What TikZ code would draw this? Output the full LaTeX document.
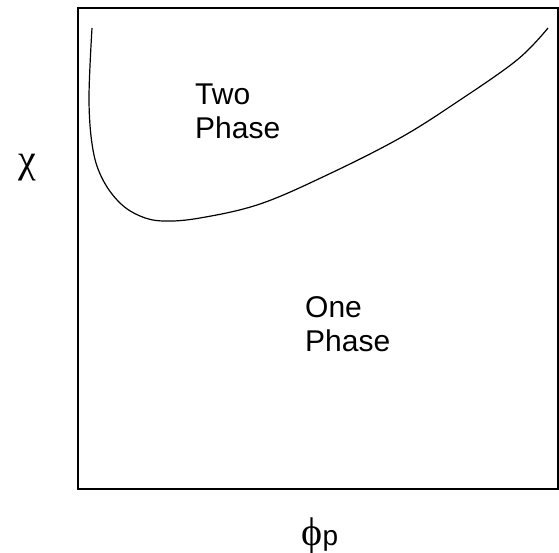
\documentclass[tikz,border=0pt]{standalone}
\usepackage{fontspec}
\setmainfont{Liberation Sans}
\newfontfamily\greekfont{Liberation Serif}
\begin{document}
\begin{tikzpicture}[x=1pt,y=-1pt,
  lbl/.style={font=\fontsize{30}{34}\selectfont, align=left, inner sep=0pt, anchor=north west},
  sym/.style={font=\greekfont\fontsize{40}{42}\selectfont, inner sep=0pt}]
\useasboundingbox (0,0) rectangle (559,553);
\draw[line width=1.6pt] (78,8) rectangle (558,489);
\draw[line width=1.2pt] plot[smooth, tension=0.6] coordinates {(92,28) (89,100) (93,150) (103,180) (120,203) (140,216) (163,221) (200,218) (260,204) (327,175) (400,138) (457,102) (517,60) (548,28)};
\node[lbl] (two) at (195,84) {Two\\Phase};
\node[lbl] (one) at (305,296) {One\\Phase};
\node[sym] (chi) at (27,168) {χ};
\node[sym, anchor=base] (phi) at (320,545) {ϕ{\rmfamily\fontsize{28}{30}\selectfont p}};
\end{tikzpicture}
\end{document}
